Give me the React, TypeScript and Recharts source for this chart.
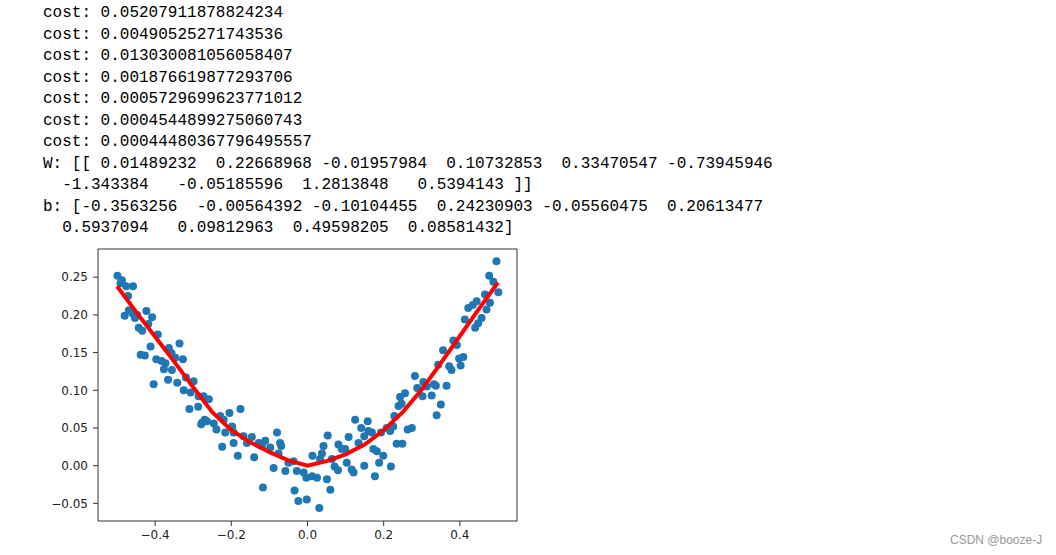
import React from "react";
import { ScatterChart, Scatter, XAxis, YAxis, ReferenceArea } from "recharts";

// printed training log above the plot
const costLines = [
  "cost: 0.05207911878824234",
  "cost: 0.00490525271743536",
  "cost: 0.013030081056058407",
  "cost: 0.001876619877293706",
  "cost: 0.0005729699623771012",
  "cost: 0.0004544899275060743",
  "cost: 0.00044480367796495557",
];
const weightLines = [
  "W: [[ 0.01489232  0.22668968 -0.01957984  0.10732853  0.33470547 -0.73945946",
  "  -1.343384   -0.05185596  1.2813848   0.5394143 ]]",
];
const biasLines = [
  "b: [-0.3563256  -0.00564392 -0.10104455  0.24230903 -0.05560475  0.20613477",
  "  0.5937094   0.09812963  0.49598205  0.08581432]",
];

// scatter samples
const dotX = [
  -0.499, -0.487, -0.491, -0.476, -0.458, -0.471, -0.469, -0.48, -0.459, -0.447,
  -0.453, -0.423, -0.408, -0.418, -0.443, -0.434, -0.393, -0.412, -0.438, -0.427,
  -0.364, -0.357, -0.336, -0.397, -0.383, -0.373, -0.347, -0.327, -0.377, -0.356,
  -0.404, -0.366, -0.342, -0.319, -0.299, -0.325, -0.307, -0.286, -0.31, -0.287,
  -0.279, -0.27,
  -0.273, -0.259, -0.277, -0.264, -0.246, -0.239, -0.229, -0.22, -0.205, -0.176,
  -0.216, -0.198, -0.224, -0.194, -0.194, -0.168, -0.146, -0.159, -0.183, -0.14,
  -0.128, -0.111, -0.12, -0.098, -0.08, -0.072, -0.069, -0.089, -0.076, -0.058,
  -0.05, -0.037, -0.028, -0.01, -0.003, -0.117, -0.034, -0.024, -0.002,
  0.012, 0.025, 0.031, 0.051, 0.06, 0.013, 0.033, 0.042, 0.053, 0.038,
  0.064, 0.071, 0.08, 0.081, 0.09, 0.099, 0.103, 0.116, 0.121, 0.108,
  0.125, 0.134, 0.141, 0.149, 0.149, 0.158, 0.16, 0.169, 0.173, 0.182,
  0.177, 0.188, 0.199, 0.193, 0.208, 0.219, 0.217, 0.228, 0.225, 0.234,
  0.249, 0.243, 0.256, 0.239, 0.247, 0.263, 0.274, 0.282,
  0.288, 0.304, 0.313, 0.302, 0.326, 0.332, 0.337, 0.35, 0.339, 0.365,
  0.343, 0.356, 0.372, 0.378, 0.383, 0.392, 0.398, 0.409, 0.402, 0.413,
  0.422, 0.434, 0.444, 0.44, 0.448, 0.457, 0.466, 0.47, 0.479, 0.477,
  0.488, 0.501, 0.496,
];
const dotY = [
  0.252, 0.246, 0.242, 0.238, 0.238, 0.225, 0.206, 0.199, 0.202, 0.2,
  0.196, 0.205, 0.197, 0.188, 0.183, 0.179, 0.174, 0.158, 0.147, 0.146,
  0.156, 0.149, 0.162, 0.141, 0.139, 0.136, 0.143, 0.141, 0.128, 0.127,
  0.108, 0.114, 0.11, 0.117, 0.112, 0.1, 0.097, 0.092, 0.075, 0.078,
  0.055, 0.061,
  0.092, 0.088, 0.057, 0.059, 0.056, 0.048, 0.066, 0.061, 0.07, 0.075,
  0.044, 0.052, 0.025, 0.044, 0.03, 0.039, 0.038, 0.03, 0.013, 0.011,
  0.03, 0.033, 0.026, 0.024, 0.044, 0.03, 0.026, -0.003, 0.016, -0.007,
  0.004, 0.006, -0.007, -0.009, -0.016, -0.029, -0.033, -0.047, -0.045,
  -0.014, -0.016, -0.056, -0.018, -0.032, 0.013, 0.009, 0.026, 0.04, 0.016,
  0.009, -0.001, -0.006, 0.028, 0.022, 0.022, 0.004, -0.005, -0.009, 0.038,
  0.061, 0.03, 0.05, 0.0, 0.039, 0.059, 0.046, 0.044, 0.022, 0.019,
  -0.014, 0.004, 0.013, 0.044, 0.05, -0.001, 0.046, 0.066, 0.052, 0.029,
  0.029, 0.091, 0.096, 0.079, 0.082, 0.048, 0.05, 0.119,
  0.103, 0.111, 0.105, 0.092, 0.093, 0.108, 0.106, 0.081, 0.067, 0.106,
  0.134, 0.153, 0.132, 0.127, 0.166, 0.16, 0.142, 0.144, 0.133, 0.194,
  0.209, 0.213, 0.218, 0.183, 0.189, 0.196, 0.227, 0.207, 0.216, 0.252,
  0.244, 0.23, 0.271,
];

// fitted prediction curve (red)
const fitX = [
  -0.5, -0.45, -0.4, -0.35, -0.3, -0.25, -0.2, -0.15, -0.1, -0.05, 0,
  0.05, 0.1, 0.15, 0.2, 0.25, 0.3, 0.35, 0.4, 0.45, 0.5,
];
const fitY = [
  0.238, 0.204, 0.171, 0.138, 0.104, 0.071, 0.047, 0.031, 0.018, 0.007, 0.0,
  0.006, 0.015, 0.028, 0.047, 0.071, 0.101, 0.136, 0.172, 0.208, 0.243,
];

const xTicks = [-0.4, -0.2, 0, 0.2, 0.4];
const yTicks = [-0.05, 0, 0.05, 0.1, 0.15, 0.2, 0.25];
const xDomain = [-0.55, 0.55];
const yDomain = [-0.0734, 0.2874];

const points = dotX.map((x, i) => ({ x, y: dotY[i] }));
const fitPoints = fitX.map((x, i) => ({ x, y: fitY[i] }));

const fmt = (digits: number) => (v: number) =>
  (v < -1e-9 ? "\u2212" : "") + Math.abs(v).toFixed(digits);

const tickStyle = { fontSize: 12, fill: "#222", fontFamily: "DejaVu Sans" };

export default function App() {
  return (
    <div
      style={{
        position: "absolute",
        left: 0,
        top: 0,
        width: 1056,
        height: 555,
        background: "#fff",
        overflow: "hidden",
      }}
    >
      <pre
        style={{
          position: "absolute",
          left: 43,
          top: 3,
          margin: 0,
          font: '16px/21.5px "Liberation Mono", monospace',
          color: "#000",
        }}
      >
        {[...costLines, ...weightLines, ...biasLines].join("\n")}
      </pre>

      <div style={{ position: "absolute", left: 0, top: 230 }}>
        <ScatterChart
          width={540}
          height={325}
          margin={{ top: 19, right: 23, bottom: 4, left: 0 }}
        >
          <XAxis
            type="number"
            dataKey="x"
            domain={xDomain}
            ticks={xTicks}
            allowDataOverflow
            height={30}
            tick={tickStyle}
            tickFormatter={fmt(1)}
            tickSize={5}
            tickMargin={4}
            axisLine={false}
            tickLine={{ stroke: "#333" }}
          />
          <YAxis
            type="number"
            dataKey="y"
            domain={yDomain}
            ticks={yTicks}
            allowDataOverflow
            width={98}
            tick={tickStyle}
            tickFormatter={fmt(2)}
            tickSize={5}
            tickMargin={5}
            axisLine={false}
            tickLine={{ stroke: "#333" }}
          />
          <ReferenceArea
            x1={xDomain[0]}
            x2={xDomain[1]}
            y1={yDomain[0]}
            y2={yDomain[1]}
            fill="none"
            fillOpacity={0}
            stroke="#333"
            strokeWidth={1}
          />
          <Scatter
            data={points}
            fill="#1f77b4"
            isAnimationActive={false}
            shape={(p: any) => (
              <circle cx={p.cx} cy={p.cy} r={4} fill="#1f77b4" />
            )}
          />
          <Scatter
            data={fitPoints}
            isAnimationActive={false}
            line={{ stroke: "#ff0000", strokeWidth: 4 }}
            shape={() => <g />}
          />
        </ScatterChart>
      </div>

      <div
        style={{
          position: "absolute",
          left: 950,
          top: 533,
          font: '12px "Liberation Sans", Arial, sans-serif',
          color: "#999",
        }}
      >
        CSDN @booze-J
      </div>
    </div>
  );
}
